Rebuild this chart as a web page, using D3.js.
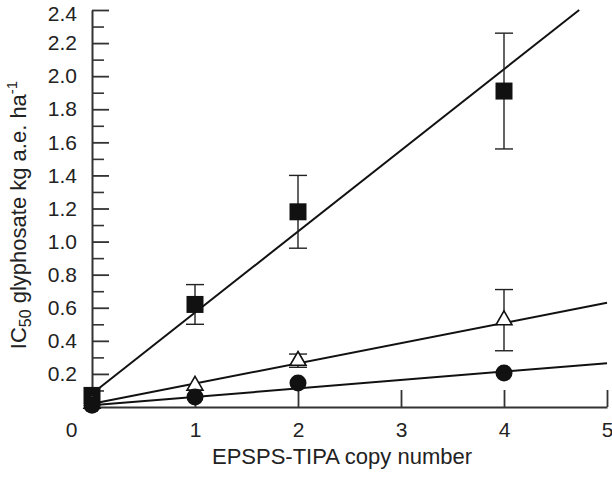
<!DOCTYPE html>
<meta charset="utf-8">
<style>
body { margin: 0; background: #fff; }
text { font-family: "Liberation Sans", Arial, sans-serif; fill: #222; }
.axis path, .axis line { stroke: #333; }
.fit { fill: none; stroke: #111; stroke-width: 2px; }
.err { stroke: #222; stroke-width: 1.4px; }
</style>
<body>
<script src="https://d3js.org/d3.v7.min.js"></script>
<script>

// data
var copies = [0, 1, 2, 4];
var squareVals = [0.07, 0.62, 1.18, 1.91];
var squareErr = [0, 0.12, 0.22, 0.35];
var triangleVals = [0.02, 0.13, 0.28, 0.525];
var triangleErr = [0, 0, 0.04, 0.185];
var circleVals = [0.01, 0.06, 0.145, 0.205];
var circleErr = [0, 0, 0, 0];

// fitted lines, end points
var squareFit = [[0, 0.08], [4.73, 2.4]];
var triangleFit = [[0, 0.02], [5, 0.63]];
var circleFit = [[0, 0.01], [5, 0.265]];

var xTicks = [0, 1, 2, 3, 4, 5];
var yTicks = [0.2, 0.4, 0.6, 0.8, 1.0, 1.2, 1.4, 1.6, 1.8, 2.0, 2.2, 2.4];
var yMinor = [0.1, 0.3, 0.5, 0.7, 0.9, 1.1, 1.3, 1.5, 1.7, 1.9, 2.1, 2.3];

var svg = d3.select("body").append("svg")
    .attr("width", 612)
    .attr("height", 477);

// scales
var x = d3.scaleLinear().domain([0, 5]).range([92, 607]);
var y = d3.scaleLinear().domain([0, 2.4]).range([407, 10]);

// minor y ticks
svg.append("g")
    .attr("class", "axis")
    .attr("transform", "translate(92,0)")
    .call(d3.axisLeft(y).tickValues(yMinor).tickSizeInner(-12).tickSizeOuter(0).tickFormat(""))
    .call(function(g) { g.select(".domain").remove(); })
    .selectAll("line").attr("stroke-width", 1.6);

// major y axis
var yAxis = svg.append("g")
    .attr("class", "axis")
    .attr("transform", "translate(92,0)")
    .call(d3.axisLeft(y).tickValues(yTicks).tickSizeInner(-17).tickSizeOuter(0)
      .tickPadding(15).tickFormat(d3.format(".1f")));
yAxis.select(".domain").attr("stroke-width", 2);
yAxis.selectAll("line").attr("stroke-width", 1.8);
yAxis.selectAll("text").attr("font-size", 21).style("fill", "#222")
    .attr("y", function(d) { return d === 2.4 ? 4 : 0; });

// x axis
var xAxis = svg.append("g")
    .attr("class", "axis")
    .attr("transform", "translate(0,407)")
    .call(d3.axisBottom(x).tickValues(xTicks).tickSizeInner(-17).tickSizeOuter(0)
      .tickPadding(15).tickFormat(d3.format("d")));
xAxis.select(".domain").attr("stroke-width", 2);
xAxis.selectAll("line").attr("stroke-width", 1.8);
xAxis.selectAll("text").attr("font-size", 21).style("fill", "#222")
    .attr("x", function(d) { return d === 0 ? -21 : 0; });

// axis titles
svg.append("text")
    .attr("x", 342)
    .attr("y", 464)
    .attr("text-anchor", "middle")
    .attr("font-size", 22)
    .text("EPSPS-TIPA copy number");

var yTitle = svg.append("text")
    .attr("transform", "translate(26,215) rotate(-90)")
    .attr("text-anchor", "middle")
    .attr("font-size", 22);
yTitle.append("tspan").text("IC");
yTitle.append("tspan").attr("font-size", 16).attr("dy", 5).text("50");
yTitle.append("tspan").attr("dy", -5).text(" glyphosate kg a.e. ha");
yTitle.append("tspan").attr("font-size", 15).attr("dy", -9).text("-1");

// fitted lines
var line = d3.line()
    .x(function(d) { return x(d[0]); })
    .y(function(d) { return y(d[1]); });

[squareFit, triangleFit, circleFit].forEach(function(f) {
  svg.append("path").attr("class", "fit").attr("d", line(f));
});

// error bars
function errorBars(vals, errs) {
  copies.forEach(function(c, i) {
    if (!errs[i]) return;
    var g = svg.append("g").attr("class", "err");
    g.append("line")
        .attr("x1", x(c)).attr("x2", x(c))
        .attr("y1", y(vals[i] - errs[i])).attr("y2", y(vals[i] + errs[i]));
    [vals[i] - errs[i], vals[i] + errs[i]].forEach(function(v) {
      g.append("line")
          .attr("x1", x(c) - 9).attr("x2", x(c) + 9)
          .attr("y1", y(v)).attr("y2", y(v));
    });
  });
}
errorBars(squareVals, squareErr);
errorBars(triangleVals, triangleErr);
errorBars(circleVals, circleErr);

// markers
svg.selectAll(".sq")
    .data(squareVals)
  .enter().append("path")
    .attr("class", "sq")
    .attr("d", d3.symbol().type(d3.symbolSquare).size(289))
    .attr("transform", function(d, i) { return "translate(" + x(copies[i]) + "," + y(d) + ")"; })
    .attr("fill", "#111");

svg.selectAll(".tri")
    .data(triangleVals)
  .enter().append("path")
    .attr("class", "tri")
    .attr("d", d3.symbol().type(d3.symbolTriangle).size(110))
    .attr("transform", function(d, i) { return "translate(" + x(copies[i]) + "," + y(d) + ")"; })
    .attr("fill", "#fff")
    .attr("stroke", "#111")
    .attr("stroke-width", 1.6);

svg.selectAll(".dot")
    .data(circleVals)
  .enter().append("circle")
    .attr("class", "dot")
    .attr("cx", function(d, i) { return x(copies[i]); })
    .attr("cy", function(d) { return y(d); })
    .attr("r", 8.5)
    .attr("fill", "#111");

</script>
</body>
